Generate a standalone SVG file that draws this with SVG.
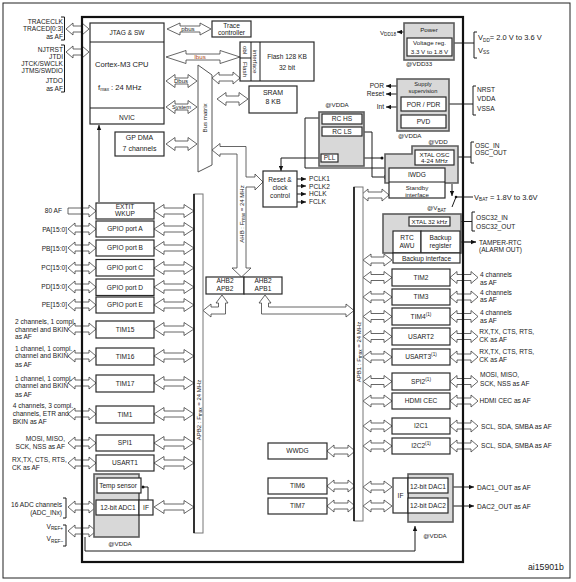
<svg xmlns="http://www.w3.org/2000/svg" width="576" height="582" viewBox="0 0 576 582">
<style>
text{font-family:"Liberation Sans",Arial,Helvetica,sans-serif;font-size:6.6px;fill:#1a1a1a}
.c{text-anchor:middle}
.r{text-anchor:end}
.s{font-size:6.2px}
.f56{font-size:5.7px}
.f6{font-size:6px}
.f7{font-size:7px}
.f75{font-size:7.5px}
.f76{font-size:7.6px}
.f87{font-size:8.7px}
.sub{font-size:4.7px}
.b{fill:#fff;stroke:#2a2a2a;stroke-width:1.2}
.g{fill:#d8d8d8;stroke:#5c5c5c;stroke-width:1.6}
.a{fill:#fff;stroke:#404040;stroke-width:0.8}
.l{fill:none;stroke:#1a1a1a;stroke-width:1}
.bus{fill:#fff;stroke:#777;stroke-width:1}
.bk{fill:none;stroke:#111;stroke-width:1.6}
.dot{fill:#111}
</style>
<defs>
<marker id="m" viewBox="0 0 8 8" refX="8" refY="4" markerWidth="5" markerHeight="5" markerUnits="userSpaceOnUse" orient="auto-start-reverse"><path d="M0,0.5 L8,4 L0,7.5 Z" fill="#111"/></marker>
<path id="pa" d="M0,0 L7,-6 L7,-3 L21,-3 L21,-6 L28,0 L21,6 L21,3 L7,3 L7,6 Z"/>
<path id="ps" d="M0,0 L7,-6 L7,-3 L16,-3 L16,-6 L23,0 L16,6 L16,3 L7,3 L7,6 Z"/>
<path id="bl" d="M0,0 L10,-6.5 L10,-3 L30,-3 L30,-6.5 L40,0 L30,6.5 L30,3 L10,3 L10,6.5 Z"/>
<path id="ap" d="M0,0 L8,-6 L8,-3 L21,-3 L21,-6 L29,0 L21,6 L21,3 L8,3 L8,6 Z"/>
<path id="bm" d="M0,0 L9,-6.5 L9,-3 L22,-3 L22,-6.5 L31,0 L22,6.5 L22,3 L9,3 L9,6.5 Z"/>
</defs>
<rect width="576" height="582" fill="#fff"/>
<rect x="3" y="3" width="567" height="575" fill="none" stroke="#222" stroke-width="1"/>

<g id="connectors">
<g class="a">
<use href="#ps" x="66" y="29"/>
<use href="#ps" x="66" y="52"/>
<path d="M167,29 L180,23 L180,26 L200,26 L200,23 L211,29 L200,35 L200,32 L180,32 L180,35 Z"/>
<path d="M166,57 L186,50.5 L186,54 L220,54 L220,50.5 L240,57 L220,63.5 L220,60 L186,60 L186,63.5 Z"/>
<use href="#bm" x="166" y="81"/>
<use href="#bm" x="166" y="107"/>
<use href="#bm" x="166" y="144"/>
<use href="#pa" x="212" y="78"/>
<use href="#bm" x="217" y="99"/>
<path d="M212,150 L220,143.5 L220,146.5 L246,146.5 L246,177 L255,177 L255,174 L263,182 L255,190 L255,187 L246,187 L246,268 L251,268 L241.5,277 L232,268 L237,268 L237,154 L220,154 L220,156.5 Z"/>
<path d="M222,295 L228,303 L225.5,303 L225.5,314 L211,314 L211,317 L203,310.5 L211,304 L211,307 L218.5,307 L218.5,303 L216,303 Z"/>
<path d="M265,295 L271,303 L268.5,303 L268.5,307 L346,307 L346,304 L354,310.5 L346,317 L346,314 L261.5,314 L261.5,303 L259,303 Z"/>
<use href="#pa" x="361" y="195"/>
<use href="#ap" x="363" y="260"/>
<path d="M68,208 H89 V205 L96,211 L89,217 V214 H68 Z"/>
<use href="#pa" x="68" y="229"/>
<use href="#pa" x="68" y="248"/>
<use href="#pa" x="68" y="268"/>
<use href="#pa" x="68" y="287"/>
<use href="#pa" x="68" y="305"/>
<use href="#pa" x="68" y="329"/>
<use href="#pa" x="68" y="356"/>
<use href="#pa" x="68" y="383"/>
<use href="#pa" x="68" y="414"/>
<use href="#pa" x="68" y="443"/>
<use href="#pa" x="68" y="463"/>
<use href="#pa" x="68" y="507"/>
<use href="#pa" x="68" y="531"/>
<use href="#bl" x="154" y="211"/>
<use href="#bl" x="154" y="229"/>
<use href="#bl" x="154" y="248"/>
<use href="#bl" x="154" y="268"/>
<use href="#bl" x="154" y="287"/>
<use href="#bl" x="154" y="305"/>
<use href="#bl" x="154" y="329"/>
<use href="#bl" x="154" y="356"/>
<use href="#bl" x="154" y="383"/>
<use href="#bl" x="154" y="414"/>
<use href="#bl" x="154" y="443"/>
<use href="#bl" x="154" y="463"/>
<use href="#bl" x="154" y="507"/>
<use href="#ap" x="363" y="277.5"/>
<use href="#ap" x="363" y="297"/>
<use href="#ap" x="363" y="316.5"/>
<use href="#ap" x="363" y="336.5"/>
<use href="#ap" x="363" y="357"/>
<use href="#ap" x="363" y="381.5"/>
<use href="#ap" x="363" y="401"/>
<use href="#ap" x="363" y="426"/>
<use href="#ap" x="363" y="446"/>
<use href="#ap" x="363" y="487"/>
<use href="#ap" x="363" y="506"/>
<use href="#pa" x="450" y="277.5"/>
<use href="#pa" x="450" y="297"/>
<use href="#pa" x="450" y="316.5"/>
<use href="#pa" x="450" y="336.5"/>
<use href="#pa" x="450" y="357"/>
<use href="#pa" x="450" y="381.5"/>
<use href="#pa" x="450" y="401"/>
<use href="#pa" x="450" y="426"/>
<use href="#pa" x="450" y="446"/>
<use href="#pa" x="327" y="451"/>
<use href="#pa" x="327" y="486"/>
<use href="#pa" x="327" y="506"/>
</g>
<g class="l">
<path d="M99,202 V125" marker-end="url(#m)"/>
<path d="M404,32 H397" marker-end="url(#m)"/>
<path d="M454,43 H474"/>
<path d="M397,86 H386" marker-end="url(#m)"/>
<path d="M397,94 H386" marker-end="url(#m)"/>
<path d="M397,107 H386" marker-end="url(#m)"/>
<path d="M446,104 H473"/>
<path d="M322,118 H305 V168 H385"/>
<path d="M362,132 H372 V177 H389" marker-end="url(#m)"/>
<path d="M321,158 H281 V171" marker-end="url(#m)"/>
<path d="M338,158 H382"/>
<path d="M297,179 H306" marker-end="url(#m)"/>
<path d="M297,186 H306" marker-end="url(#m)"/>
<path d="M297,194 H306" marker-end="url(#m)"/>
<path d="M297,202 H306" marker-end="url(#m)"/>
<path d="M454,157 H471"/>
<path d="M452,184 V196" marker-end="url(#m)"/>
<path d="M456,197 H473"/>
<path d="M456,197 L452,207"/>
<path d="M450,221.5 H472"/>
<path d="M409,221.5 H403 V230" marker-end="url(#m)"/>
<path d="M456,242 H476" stroke-width="1.3" marker-start="url(#m)" marker-end="url(#m)"/>
<path d="M148,500 V487 H143"/>
<path d="M85,537 V551 H415 V526" marker-end="url(#m)"/>
<path d="M448,487 H474" marker-end="url(#m)"/>
<path d="M448,506 H474" marker-end="url(#m)"/>
</g>
<circle class="dot" cx="382" cy="158" r="1.5"/>
<circle class="dot" cx="456" cy="197" r="1.3"/>
<circle class="dot" cx="143" cy="487" r="1.5"/>
<text class="c s" x="188" y="31.3">pbus</text>
<text class="c s" x="200" y="59.2" style="fill:#b04a10">Ibus</text>
<text class="c f6" x="181" y="83.2">Dbus</text>
<text class="c f56" x="181.5" y="109">System</text>
</g>

<g id="trace-pins">
<text class="r" x="63" y="24.3">TRACECLK</text>
<text class="r" x="63" y="31.3">TRACED[0:3]</text>
<text class="r" x="63" y="39">as AF</text>
<path class="l" d="M61,17 H64.5 V40 H61"/>
</g>
<g id="jtag-pins">
<text class="r" x="63" y="52.3">NJTRST</text>
<text class="r" x="63" y="59">JTDI</text>
<text class="r" x="63" y="65.6">JTCK/SWCLK</text>
<text class="r" x="63" y="73.3">JTMS/SWDIO</text>
<text class="r" x="63" y="83">JTDO</text>
<text class="r" x="63" y="91">as AF</text>
<path class="l" d="M61,45 H64.5 V92 H61"/>
</g>

<g id="cpu">
<rect class="b" x="90" y="23" width="74" height="101"/>
<path class="l" d="M90,42 H164 M90,108 H164" stroke-width="1.2"/>
<text class="c" x="127" y="34.6">JTAG &amp; SW</text>
<text class="f76" x="95" y="66.7">Cortex-M3 CPU</text>
<text class="f76" x="98" y="89.5">f<tspan class="sub" dy="1.8">max</tspan><tspan dy="-1.8"> : 24 MHz</tspan></text>
<text class="c" x="127" y="119.6">NVIC</text>
</g>

<g id="gp-dma">
<rect class="b" x="115" y="132" width="49" height="24"/>
<text class="c f7" x="139.5" y="139.8">GP DMA</text>
<text class="c f7" x="139.5" y="150.8">7 channels</text>
</g>

<g id="trace-controller">
<rect class="b" x="212" y="21" width="39" height="16"/>
<text class="c" x="231.5" y="27.8">Trace</text>
<text class="c" x="231.5" y="35.3">controller</text>
</g>

<g id="flash">
<rect class="b" x="240" y="42" width="74" height="39"/>
<path class="l" d="M251,42 V81 M260,42 V81 M240,58 H251"/>
<text class="c s" transform="translate(243.4,50) rotate(90)">obl</text>
<text class="c s" transform="translate(243.4,69.5) rotate(90)">Flash</text>
<text class="c s" transform="translate(253.4,61.5) rotate(90)">interface</text>
<text class="c" x="287" y="59.3">Flash 128 KB</text>
<text class="c" x="287" y="70.3">32 bit</text>
</g>

<g id="sram">
<rect class="b" x="249" y="86" width="48" height="27"/>
<text class="c f7" x="273" y="95.3">SRAM</text>
<text class="c f7" x="273" y="104.3">8 KB</text>
</g>

<g id="bus-matrix">
<polygon points="198,65 212,75 212,165 198,172" fill="#fff" stroke="#555" stroke-width="1"/>
<text class="c s" transform="translate(207.2,118) rotate(-90)">Bus matrix</text>
</g>

<g id="power">
<rect class="g" x="404" y="23" width="50" height="37"/>
<text class="c s" x="429" y="32.3">Power</text>
<rect class="b" x="407" y="38" width="45" height="18"/>
<text class="c s" x="429.5" y="45.3">Voltage reg.</text>
<text class="c s" x="429.5" y="53.8">3.3 V to 1.8 V</text>
<text class="s" x="406" y="66.3">@VDD33</text>
</g>
<g id="vdd18">
<text class="r s" x="396" y="34.5">V<tspan class="sub" dy="1.5">DD18</tspan></text>
</g>
<g id="power-pins">
<path class="l" d="M477,32 H474 V58 H477"/>
<text class="f75" x="478" y="39.7">V<tspan class="sub" dy="1.8">DD</tspan><tspan dy="-1.8">= 2.0 V to 3.6 V</tspan></text>
<text class="f75" x="478" y="52.5">V<tspan class="sub" dy="1.8">SS</tspan></text>
</g>

<g id="supply-supervision">
<rect class="g" x="397" y="79" width="52" height="52"/>
<text class="c f56" x="423" y="86.3">Supply</text>
<text class="c f56" x="423" y="93.3">supervision</text>
<rect class="b" x="401" y="97" width="45" height="14"/>
<text class="c" x="423.5" y="106.5">POR / PDR</text>
<rect class="b" x="401" y="115" width="45" height="13"/>
<text class="c" x="423.5" y="124">PVD</text>
<text class="s" x="398" y="138.3">@VDDA</text>
</g>
<g id="reset-outputs">
<text class="r" x="384" y="88.3">POR</text>
<text class="r" x="384" y="96.3">Reset</text>
<text class="r" x="384" y="109.3">Int</text>
</g>
<g id="supply-pins">
<path class="l" d="M476,86 H473 V115 H476"/>
<text x="477" y="92.3">NRST</text>
<text x="477" y="100.6">VDDA</text>
<text x="477" y="110.6">VSSA</text>
</g>

<g id="rc-osc">
<text class="c s" x="337" y="106.5">@VDDA</text>
<rect class="g" x="319" y="112" width="45" height="54"/>
<rect class="b" x="322" y="114" width="40" height="10"/>
<text class="c" x="342" y="121.4">RC HS</text>
<rect class="b" x="322" y="127" width="40" height="9"/>
<text class="c" x="342" y="133.9">RC LS</text>
<rect class="b" x="321" y="154" width="17" height="8"/>
<text class="c" x="329.5" y="160.4">PLL</text>
</g>

<g id="reset-clock">
<rect class="b" x="263" y="171" width="34" height="36"/>
<text class="c" x="280" y="182.3">Reset &amp;</text>
<text class="c" x="280" y="190.3">clock</text>
<text class="c" x="280" y="198.3">control</text>
<text x="309" y="181.3">PCLK1</text>
<text x="309" y="188.6">PCLK2</text>
<text x="309" y="196.3">HCLK</text>
<text x="309" y="204.2">FCLK</text>
</g>

<g id="xtal-osc-standby">
<path class="g" d="M412,146 H458 V183 H385 V154 H412 Z"/>
<text class="c s" x="438" y="143.8">@VDD</text>
<rect class="b" x="415" y="150" width="39" height="15"/>
<text class="c s" x="434.5" y="156.6">XTAL OSC</text>
<text class="c s" x="434.5" y="163">4-24 MHz</text>
<rect class="b" x="389" y="168" width="56" height="30"/>
<path class="l" d="M389,182 H445"/>
<text class="c" x="417" y="177">IWDG</text>
<text class="c s" x="417" y="190">Standby</text>
<text class="c s" x="417" y="196.6">interface</text>
</g>
<g id="osc-pins">
<path class="l" d="M474,142 H471 V163 H474"/>
<text x="475" y="148">OSC_IN</text>
<text x="475" y="155.2">OSC_OUT</text>
</g>
<g id="vbat">
<text class="f75" x="474" y="199.5">V<tspan class="sub" dy="1.8">BAT</tspan><tspan dy="-1.8"> = 1.8V to 3.6V</tspan></text>
</g>

<g id="backup-domain">
<text class="s" x="427" y="210">@V<tspan class="sub" dy="1.5">BAT</tspan></text>
<rect class="g" x="383" y="214" width="78" height="39"/>
<rect class="b" x="409" y="217" width="41" height="9"/>
<text class="c s" x="429.5" y="223.8">XTAL 32 kHz</text>
<rect class="b" x="393" y="231" width="28" height="22"/>
<text class="c" x="407" y="239.8">RTC</text>
<text class="c" x="407" y="247.5">AWU</text>
<rect class="b" x="421" y="231" width="39" height="22"/>
<text class="c" x="440.5" y="239.8">Backup</text>
<text class="c" x="440.5" y="247.5">register</text>
<rect class="b" x="393" y="253" width="67" height="10"/>
<text class="c" x="426.5" y="260.6">Backup interface</text>
</g>
<g id="osc32-pins">
<path class="l" d="M475,212 H472 V231 H475"/>
<text x="476" y="219.5">OSC32_IN</text>
<text x="476" y="228.5">OSC32_OUT</text>
</g>
<g id="tamper">
<text x="479" y="244.5">TAMPER-RTC</text>
<text x="479" y="252.3">(ALARM OUT)</text>
</g>

<g id="apb1-bus">
<rect class="bus" x="354" y="187" width="9" height="334"/>
<path class="bk" d="M354,187 V521"/>
<text class="c f6" transform="translate(360.6,352) rotate(-90)">APB1 : F<tspan class="sub" dy="1.5">max</tspan><tspan dy="-1.5"> = 24 MHz</tspan></text>
</g>
<g id="apb2-bus">
<rect class="bus" x="194" y="194" width="9" height="339"/>
<path class="bk" d="M194,194 V533"/>
<text class="c f6" transform="translate(200.6,410) rotate(-90)">APB2 : F<tspan class="sub" dy="1.5">max</tspan><tspan dy="-1.5"> = 24 MHz</tspan></text>
</g>
<g id="ahb-bus">
<text class="c f6" transform="translate(243.7,214) rotate(-90)">AHB : F<tspan class="sub" dy="1.5">max</tspan><tspan dy="-1.5"> = 24 MHz</tspan></text>
</g>

<g id="ahb-apb-bridges">
<rect class="b" x="206" y="277" width="38" height="17"/>
<text class="c" x="225" y="283.3">AHB2</text>
<text class="c" x="225" y="290.5">APB2</text>
<rect class="b" x="244" y="277" width="38" height="17"/>
<text class="c" x="263" y="283.3">AHB2</text>
<text class="c" x="263" y="290.5">APB1</text>
</g>

<g id="exti">
<text class="r" x="62" y="213.3">80 AF</text>
<rect class="b" x="96" y="203" width="58" height="16"/>
<text class="c" x="125" y="209">EXTIT</text>
<text class="c" x="125" y="216.3">WKUP</text>
</g>
<g id="gpio-a">
<text class="r" x="67" y="231.6">PA[15:0]</text>
<rect class="b" x="96" y="221" width="58" height="16"/>
<text class="c" x="125" y="231.3">GPIO port A</text>
</g>
<g id="gpio-b">
<text class="r" x="67" y="250.6">PB[15:0]</text>
<rect class="b" x="96" y="240" width="58" height="16"/>
<text class="c" x="125" y="250.3">GPIO port B</text>
</g>
<g id="gpio-c">
<text class="r" x="67" y="270.3">PC[15:0]</text>
<rect class="b" x="96" y="259.5" width="58" height="16.5"/>
<text class="c" x="125" y="270.3">GPIO port C</text>
</g>
<g id="gpio-d">
<text class="r" x="67" y="289.3">PD[15:0]</text>
<rect class="b" x="96" y="279" width="58" height="16.5"/>
<text class="c" x="125" y="289.5">GPIO port D</text>
</g>
<g id="gpio-e">
<text class="r" x="67" y="307.3">PE[15:0]</text>
<rect class="b" x="96" y="297" width="58" height="16"/>
<text class="c" x="125" y="307.3">GPIO port E</text>
</g>
<g id="tim15">
<text x="15" y="324">2 channels, 1 compl.</text>
<text x="15" y="331.6">channel and BKIN</text>
<text x="15" y="339">as AF</text>
<rect class="b" x="96" y="321" width="58" height="17"/>
<text class="c" x="125" y="331.8">TIM15</text>
</g>
<g id="tim16">
<text x="15" y="350.6">1 channel, 1 compl.</text>
<text x="15" y="358.3">channel and BKIN</text>
<text x="15" y="366.6">as AF</text>
<rect class="b" x="96" y="348" width="58" height="17"/>
<text class="c" x="125" y="358.8">TIM16</text>
</g>
<g id="tim17">
<text x="15" y="380.6">1 channel, 1 compl.</text>
<text x="15" y="388.3">channel and BKIN</text>
<text x="15" y="397">as AF</text>
<rect class="b" x="96" y="375" width="58" height="17"/>
<text class="c" x="125" y="385.8">TIM17</text>
</g>
<g id="tim1">
<text x="12.7" y="408.3">4 channels, 3 compl.</text>
<text x="12.7" y="416.3">channels, ETR and</text>
<text x="12.7" y="424">BKIN as AF</text>
<rect class="b" x="96" y="406" width="58" height="17"/>
<text class="c" x="125" y="416.8">TIM1</text>
</g>
<g id="spi1">
<text class="r" x="65" y="441.3">MOSI, MISO,</text>
<text class="r" x="65" y="448.6">SCK, NSS as AF</text>
<rect class="b" x="96" y="435" width="58" height="16"/>
<text class="c" x="125" y="445.3">SPI1</text>
</g>
<g id="usart1">
<text x="12" y="462.3">RX,TX, CTS, RTS,</text>
<text x="12" y="470">CK as AF</text>
<rect class="b" x="96" y="455" width="58" height="16"/>
<text class="c" x="125" y="465.3">USART1</text>
</g>
<g id="adc">
<text class="r" x="62" y="507.3">16 ADC channels</text>
<text class="r" x="62" y="515">(ADC_INx)</text>
<path class="l" d="M63,498 H66 V518 H63"/>
<text class="r" x="63" y="528.7">V<tspan class="sub" dy="1.5">REF+</tspan></text>
<text class="r" x="63" y="541.3">V<tspan class="sub" dy="1.5">REF–</tspan></text>
<path class="l" d="M63,525 H66 V546 H63"/>
<rect class="g" x="94" y="474" width="45" height="63"/>
<rect class="b" x="97" y="478" width="44" height="15"/>
<text class="c" x="118" y="488.3">Temp sensor</text>
<rect class="b" x="96" y="500" width="43" height="15"/>
<text class="c" x="118" y="509.6">12-bit ADC1</text>
<rect class="b" x="139" y="500" width="14" height="15"/>
<text class="c" x="146" y="509.6">IF</text>
<text class="c s" x="120" y="545.6">@VDDA</text>
</g>

<g id="tim2">
<rect class="b" x="392" y="269" width="58" height="17"/>
<text class="c" x="421" y="279.8">TIM2</text>
<text x="480" y="277.3">4 channels</text>
<text x="480" y="285.3">as AF</text>
</g>
<g id="tim3">
<rect class="b" x="392" y="289" width="58" height="16"/>
<text class="c" x="421" y="299.3">TIM3</text>
<text x="480" y="295">4 channels</text>
<text x="480" y="301.8">as AF</text>
</g>
<g id="tim4">
<rect class="b" x="392" y="308" width="58" height="17"/>
<text class="c" x="421" y="318.8">TIM4<tspan class="sub" dy="-3">(1)</tspan></text>
<text x="480" y="315">4 channels</text>
<text x="480" y="323">as AF</text>
</g>
<g id="usart2">
<rect class="b" x="392" y="328" width="58" height="17"/>
<text class="c" x="421" y="338.8">USART2</text>
<text x="479.3" y="334">RX,TX, CTS, RTS,</text>
<text x="479.3" y="342.3">CK as AF</text>
</g>
<g id="usart3">
<rect class="b" x="392" y="349" width="58" height="16"/>
<text class="c" x="421" y="359.3">USART3<tspan class="sub" dy="-3">(1)</tspan></text>
<text x="479.3" y="354">RX,TX, CTS, RTS,</text>
<text x="479.3" y="362.3">CK as AF</text>
</g>
<g id="spi2">
<rect class="b" x="392" y="373" width="58" height="17"/>
<text class="c" x="421" y="383.8">SPI2<tspan class="sub" dy="-3">(1)</tspan></text>
<text x="480" y="377.3">MOSI, MISO,</text>
<text x="480" y="385.6">SCK, NSS as AF</text>
</g>
<g id="hdmi-cec">
<rect class="b" x="392" y="393" width="58" height="16"/>
<text class="c" x="421" y="403.3">HDMI CEC</text>
<text x="479.5" y="403.3">HDMI CEC as AF</text>
</g>
<g id="i2c1">
<rect class="b" x="392" y="418" width="58" height="16"/>
<text class="c" x="421" y="428.3">I2C1</text>
<text x="481" y="429">SCL, SDA, SMBA as AF</text>
</g>
<g id="i2c2">
<rect class="b" x="392" y="438" width="58" height="16"/>
<text class="c" x="421" y="448.3">I2C2<tspan class="sub" dy="-3">(1)</tspan></text>
<text x="481" y="448.3">SCL, SDA, SMBA as AF</text>
</g>

<g id="wwdg">
<rect class="b" x="268" y="443" width="59" height="16"/>
<text class="c" x="297.5" y="453.3">WWDG</text>
</g>
<g id="tim6">
<rect class="b" x="268" y="478" width="59" height="16"/>
<text class="c" x="297.5" y="488.3">TIM6</text>
</g>
<g id="tim7">
<rect class="b" x="268" y="498" width="59" height="16"/>
<text class="c" x="297.5" y="508.3">TIM7</text>
</g>

<g id="dac">
<rect class="g" x="408" y="474" width="45" height="48"/>
<rect class="b" x="393" y="478" width="15" height="35"/>
<text class="c" x="400.5" y="497.8">IF</text>
<rect class="b" x="408" y="478" width="40" height="15"/>
<text class="c" x="428" y="489">12-bit DAC1</text>
<rect class="b" x="408" y="498" width="40" height="15"/>
<text class="c" x="428" y="508.3">12-bit DAC2</text>
<text class="c s" x="435" y="538.3">@VDDA</text>
<text x="477" y="489.6">DAC1_OUT as AF</text>
<text x="477" y="508.6">DAC2_OUT as AF</text>
</g>

<g id="chip">
<rect x="82" y="17" width="381" height="545" fill="none" stroke="#111" stroke-width="2.2"/>
</g>
<text class="f87" x="528" y="570">ai15901b</text>
</svg>
